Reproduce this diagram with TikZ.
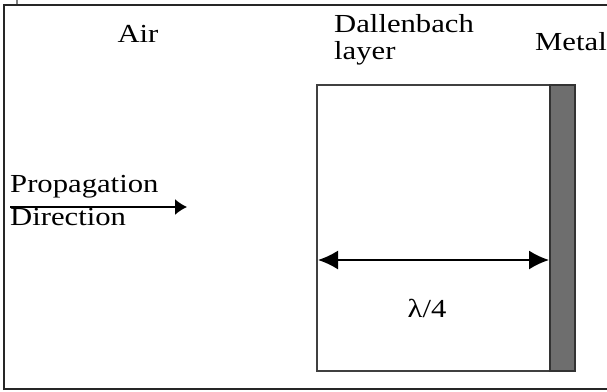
\documentclass[tikz,border=0pt]{standalone}
\usepackage{fontspec}
\setmainfont{Liberation Serif}[FakeStretch=1.18]
\usetikzlibrary{arrows.meta,positioning}
\tikzset{>={Latex[length=12pt,width=16pt]}}
\definecolor{metalgray}{HTML}{6E6E6E}

\begin{document}
\begin{tikzpicture}[x=1pt,y=-1pt,
	txt/.style={inner sep=0pt, font=\fontsize{26}{30}\selectfont},
	frame/.style={line width=2pt, black!85},
	dim/.style={line width=1.8pt, {Latex[length=20pt,width=19pt]}-{Latex[length=20pt,width=19pt]}}]
	\useasboundingbox (0,0) rectangle (607,391);
	% outer frame
	\draw[frame] (4,390) -- (4,4.5) -- (607,4.5);
	\draw[frame] (4,389) -- (607,389);
	\draw[line width=1.5pt, black!50] (17,0) -- (17,4);
	% layer and metal backing
	\coordinate (lt) at (317,85);
	\coordinate (rb) at (550,371);
	\coordinate (mt) at (550,85);
	\coordinate (mb) at (575,371);
	\draw[line width=1.5pt, black!75] (lt) rectangle (rb);
	\draw[line width=1.2pt, black!80, fill=metalgray] (mt) rectangle (mb);
	% labels
	\node[txt, anchor=base] (air) at (138,42) {Air};
	\node[txt, anchor=base west] (dal) at (334,32) {Dallenbach};
	\node[txt, anchor=base west] (layer) at ([yshift=-27pt]dal.base west) {layer};
	\node[txt, anchor=base west] (metal) at (535,50) {Metal};
	\node[txt, anchor=base west] (prop) at (10,192) {Propagation};
	\node[txt, anchor=base west] (dir) at (10,225) {Direction};
	\node[txt, anchor=base] (quarter) at (427,317) {λ/4};
	% arrows
	\coordinate (pstart) at (10,207);
	\coordinate (pend) at (187,207);
	\draw[line width=1.5pt, ->] (pstart) -- (pend);
	\coordinate (dl) at (318,260);
	\coordinate (dr) at (549,260);
	\draw[dim] (dl) -- (dr);
\end{tikzpicture}
\end{document}
